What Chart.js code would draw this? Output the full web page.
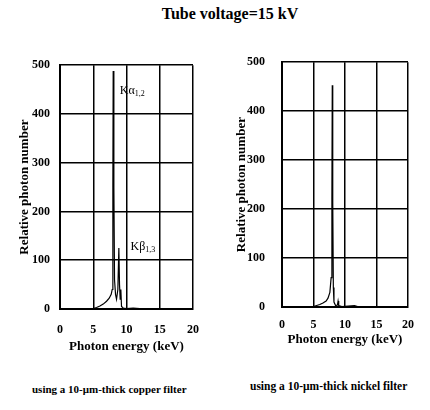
<!DOCTYPE html>
<html>
<head>
<meta charset="utf-8">
<script src="https://cdn.jsdelivr.net/npm/chart.js@4.4.0/dist/chart.umd.min.js"></script>
<style>
    body { margin: 0; background: #fff; width: 430px; height: 410px; position: relative; overflow: hidden; font-family: 'Liberation Serif', serif; }
    #title { position: absolute; left: 0; width: 460px; top: 5px; text-align: center; font-weight: bold; font-size: 16px; }
    .cap { position: absolute; font-size: 11px; font-weight: bold; top: 383px; }
    canvas { position: absolute; }
</style>
</head>
<body>
<div id="title">Tube voltage=15 kV</div>
<canvas id="copperChart" width="215" height="308" style="left:0px; top:48px;"></canvas>
<canvas id="nickelChart" width="215" height="311" style="left:215px; top:38px;"></canvas>
<div class="cap" style="left:32px;">using a 10-μm-thick copper filter</div>
<div class="cap" style="left:250px; top:380px; font-size:11.5px;">using a 10-μm-thick nickel filter</div>
<script>
// copper filter spectrum
const copperEnergy = [0, 1, 2, 3, 4, 5, 5.5, 6, 6.5, 7, 7.4, 7.7, 7.85, 7.95, 8.0, 8.1, 8.2, 8.35, 8.5, 8.7, 8.85, 8.95, 9.05, 9.15, 9.25, 9.5, 10, 11, 12, 13, 15, 17, 20];
const copperCounts = [0, 0, 0, 0, 0, 1, 3, 6, 10, 16, 22, 30, 40, 250, 488, 250, 60, 30, 20, 40, 125, 50, 20, 40, 5, 2, 1, 2, 1, 1, 0, 0, 0];

// nickel filter spectrum
const nickelEnergy = [0, 1, 2, 3, 4, 5, 5.5, 6, 6.5, 7, 7.3, 7.6, 7.8, 7.92, 7.98, 8.03, 8.08, 8.15, 8.25, 8.5, 8.8, 8.9, 9.0, 9.5, 10.5, 11.5, 12, 14, 20];
const nickelCounts = [0, 1, 0, 1, 1, 1, 3, 5, 8, 12, 18, 30, 60, 220, 453, 100, 215, 40, 10, 3, 4, 12, 3, 1, 2, 3, 1, 0, 0];

const xTicks = [0, 5, 10, 15, 20];
const yTicks = [0, 100, 200, 300, 400, 500];

const peakLabels = [
    { main: 'Kα', sub: '1,2', x: 9.0, y: 448 },
    { main: 'Kβ', sub: '1,3', x: 10.6, y: 128 }
];

function toPoints(xs, ys) {
    return xs.map((x, i) => ({ x: x, y: ys[i] }));
}

const serif = 'Liberation Serif';

// writes the peak names at data positions
const peakLabelPlugin = {
    id: 'peakLabels',
    afterDatasetsDraw(chart, args, opts) {
        if (!opts.labels) return;
        const ctx = chart.ctx;
        ctx.save();
        ctx.fillStyle = '#000';
        ctx.textBaseline = 'middle';
        opts.labels.forEach(l => {
            const px = chart.scales.x.getPixelForValue(l.x);
            const py = chart.scales.y.getPixelForValue(l.y);
            ctx.font = '12px ' + serif;
            ctx.fillText(l.main, px, py);
            const w = ctx.measureText(l.main).width;
            ctx.font = '8px ' + serif;
            ctx.fillText(l.sub, px + w, py + 3);
        });
        ctx.restore();
    }
};

// box: sizes of the axes so the plot area lands where the figure has it
// (y tick padding also pushes the top of the plot down, so the nickel canvas sits higher)
function makeConfig(xs, ys, labels, box) {
    return {
        type: 'line',
        data: {
            datasets: [{
                data: toPoints(xs, ys),
                borderColor: '#000',
                borderWidth: 1.2,
                pointRadius: 0,
                tension: 0
            }]
        },
        options: {
            responsive: false,
            animation: false,
            layout: { padding: box.pad },
            plugins: {
                legend: { display: false },
                tooltip: { enabled: false },
                peakLabels: { labels: labels }
            },
            scales: {
                x: {
                    type: 'linear',
                    min: 0,
                    max: 20,
                    afterBuildTicks: axis => { axis.ticks = xTicks.map(v => ({ value: v })); },
                    afterFit: axis => { axis.height = box.xHeight; },
                    grid: { color: '#000', lineWidth: 1.5, drawTicks: false },
                    border: { color: '#000', width: 2 },
                    ticks: { color: '#000', padding: box.xPad, maxRotation: 0, font: { family: serif, size: 12, weight: 'bold' } },
                    title: { display: true, text: 'Photon energy (keV)', color: '#000', padding: { top: 0, bottom: 0 }, font: { family: serif, size: 13, weight: 'bold' } }
                },
                y: {
                    min: 0,
                    max: 500,
                    afterBuildTicks: axis => { axis.ticks = yTicks.map(v => ({ value: v })); },
                    afterFit: axis => { axis.width = box.yWidth; },
                    grid: { color: '#000', lineWidth: 1.5, drawTicks: false },
                    border: { color: '#000', width: 2 },
                    ticks: { color: '#000', padding: box.yPad, font: { family: serif, size: 12, weight: 'bold' } },
                    title: { display: true, text: 'Relative photon number', color: '#000', padding: { top: box.yTitlePad, bottom: 0 }, font: { family: serif, size: 13, weight: 'bold' } }
                }
            }
        },
        plugins: [peakLabelPlugin]
    };
}

new Chart(document.getElementById('copperChart'),
    makeConfig(copperEnergy, copperCounts, peakLabels,
        { pad: { left: 0, right: 22, top: 17, bottom: 2 }, xHeight: 45, xPad: 14, yWidth: 60, yPad: 10, yTitlePad: 17 }));
new Chart(document.getElementById('nickelChart'),
    makeConfig(nickelEnergy, nickelCounts, null,
        { pad: { left: 0, right: 22, top: 0, bottom: 2 }, xHeight: 40, xPad: 11, yWidth: 67, yPad: 17, yTitlePad: 19 }));
</script>
</body>
</html>
